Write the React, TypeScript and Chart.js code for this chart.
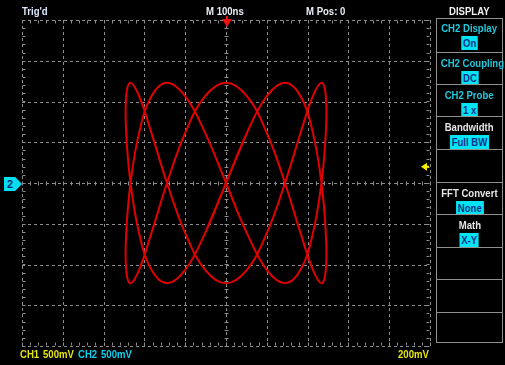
import React, { useEffect, useRef } from "react";
import { Chart, registerables } from "chart.js";

Chart.register(...registerables);

// X-Y mode: CH1 (x) vs CH2 (y), volts, 500 mV/div on both channels (2:5 Lissajous trace)
const xValues = [
  -0.256,
  0, 0.256, 0.5, 0.723, 0.914, 1.065, 1.17, 1.223, 1.223, 1.17, 1.065, 0.914, 0.723, 0.5, 0.256,
  0, -0.256, -0.5, -0.723, -0.914, -1.065, -1.17, -1.223, -1.223, -1.17, -1.065, -0.914, -0.723, -0.5, -0.256,
  0, 0.256, 0.5, 0.723, 0.914, 1.065, 1.17, 1.223, 1.223, 1.17, 1.065, 0.914, 0.723, 0.5, 0.256,
  0, -0.256, -0.5, -0.723, -0.914, -1.065, -1.17, -1.223, -1.223, -1.17, -1.065, -0.914, -0.723, -0.5, -0.256,
  0, 0.256,
];
const yValues = [
  -0.615,
  0, 0.615, 1.065, 1.23, 1.065, 0.615, 0, -0.615, -1.065, -1.23, -1.065, -0.615,
  0, 0.615, 1.065, 1.23, 1.065, 0.615, 0, -0.615, -1.065, -1.23, -1.065, -0.615,
  0, 0.615, 1.065, 1.23, 1.065, 0.615, 0, -0.615, -1.065, -1.23, -1.065, -0.615,
  0, 0.615, 1.065, 1.23, 1.065, 0.615, 0, -0.615, -1.065, -1.23, -1.065, -0.615,
  0, 0.615, 1.065, 1.23, 1.065, 0.615, 0, -0.615, -1.065, -1.23, -1.065, -0.615,
  0, 0.615,
];

const xDivTicks = [-2.5, -2, -1.5, -1, -0.5, 0, 0.5, 1, 1.5, 2, 2.5];
const yDivTicks = [-2, -1.5, -1, -0.5, 0, 0.5, 1, 1.5, 2];
const MINOR_STEP = 0.1;

const topLabels = [
  { text: "Trig'd", x: 22, color: "#dce8ff" },
  { text: "M 100ns", x: 206, color: "#e8eef8" },
  { text: "M Pos: 0", x: 306, color: "#e8eef8" },
];
const bottomLabels = [
  { text: "CH1", x: 20, color: "#e4e414" },
  { text: "500mV", x: 43, color: "#e4e414" },
  { text: "CH2", x: 78, color: "#10d0f0" },
  { text: "500mV", x: 101, color: "#10d0f0" },
  { text: "200mV", x: 398, color: "#e4e414" },
];

const menuTitle = "DISPLAY";
const menuLabels = ["CH2 Display", "CH2 Coupling", "CH2 Probe", "Bandwidth", "", "FFT Convert", "Math", "", "", ""];
const menuValues = ["On", "DC", "1 x", "Full BW", "", "None", "X-Y", "", "", ""];
const menuIsCh2 = [true, true, true, false, false, false, false, false, false, false];
const menuBounds = [18, 52, 84, 116, 149, 182, 214, 247, 279, 312, 343];

const GRID = "#8c8c8c";
const FONT = '"Liberation Sans Narrow", "Arial Narrow", "Liberation Sans", Arial, sans-serif';
const NARROW = "scaleX(0.87)";

const graticule = {
  id: "graticule",
  beforeDatasetsDraw(chart: any) {
    const { ctx, chartArea: a, scales } = chart;
    const xs = scales.x;
    const ys = scales.y;
    const line = (x1: number, y1: number, x2: number, y2: number) => {
      ctx.beginPath();
      ctx.moveTo(x1, y1);
      ctx.lineTo(x2, y2);
      ctx.stroke();
    };
    ctx.save();
    ctx.strokeStyle = GRID;
    ctx.lineWidth = 1;
    ctx.setLineDash([3, 3]);
    for (const v of xDivTicks) {
      const px = Math.round(xs.getPixelForValue(v)) + 0.5;
      line(px, a.top, px, a.bottom);
    }
    for (const v of yDivTicks) {
      const py = Math.round(ys.getPixelForValue(v)) + 0.5;
      line(a.left, py, a.right, py);
    }
    ctx.setLineDash([]);
    const xc = Math.round(xs.getPixelForValue(0)) + 0.5;
    const yc = Math.round(ys.getPixelForValue(0)) + 0.5;
    const x0 = xDivTicks[0], x1 = xDivTicks[xDivTicks.length - 1];
    const y0 = yDivTicks[0], y1 = yDivTicks[yDivTicks.length - 1];
    const top = Math.round(a.top) + 0.5, bot = Math.round(a.bottom) - 0.5;
    const lef = Math.round(a.left) + 0.5, rig = Math.round(a.right) - 0.5;
    for (let v = x0; v <= x1 + 1e-9; v += MINOR_STEP) {
      const px = Math.round(xs.getPixelForValue(v)) + 0.5;
      line(px, yc - 2, px, yc + 2);
      line(px, top, px, top + 3);
      line(px, bot, px, bot - 3);
    }
    for (let v = y0; v <= y1 + 1e-9; v += MINOR_STEP) {
      const py = Math.round(ys.getPixelForValue(v)) + 0.5;
      line(xc - 2, py, xc + 2, py);
      line(lef, py, lef + 3, py);
      line(rig, py, rig - 3, py);
    }
    ctx.restore();
  },
  afterDatasetsDraw(chart: any) {
    const { ctx, chartArea: a, scales } = chart;
    const xc = scales.x.getPixelForValue(0) + 1;
    ctx.save();
    // trigger position marker
    ctx.fillStyle = "#f01010";
    ctx.beginPath();
    ctx.moveTo(xc - 5, a.top - 1);
    ctx.lineTo(xc + 5, a.top - 1);
    ctx.lineTo(xc, a.top + 7);
    ctx.closePath();
    ctx.fill();
    ctx.fillRect(xc - 1, a.top - 4, 2, 4);
    // trigger level marker
    const ty = scales.y.getPixelForValue(0.2);
    ctx.fillStyle = "#f4f000";
    ctx.beginPath();
    ctx.moveTo(a.right - 9, ty);
    ctx.lineTo(a.right - 3, ty - 4);
    ctx.lineTo(a.right - 3, ty + 4);
    ctx.closePath();
    ctx.fill();
    ctx.fillRect(a.right - 4, ty - 1, 3, 2);
    ctx.restore();
  },
};

function Label({ text, x, y, color }: { text: string; x: number; y: number; color: string }) {
  return (
    <span
      style={{
        position: "absolute",
        left: x,
        top: y - 7,
        lineHeight: "14px",
        whiteSpace: "nowrap",
        color,
        transform: NARROW,
        transformOrigin: "left center",
      }}
    >
      {text}
    </span>
  );
}

export default function App() {
  const ref = useRef<HTMLCanvasElement>(null);

  useEffect(() => {
    document.body.style.margin = "0";
    document.body.style.background = "#000";
    const chart = new Chart(ref.current!, {
      type: "scatter",
      data: {
        datasets: [
          {
            data: xValues.map((v, i) => ({ x: v, y: yValues[i] })),
            showLine: true,
            borderColor: "#e00000",
            borderWidth: 2,
            pointRadius: 0,
            tension: 0.4,
            fill: false,
          },
        ],
      },
      options: {
        animation: false,
        responsive: false,
        devicePixelRatio: 1,
        events: [],
        layout: { padding: { left: 22, top: 20, right: 75, bottom: 19 } },
        scales: {
          x: { type: "linear", min: -2.5, max: 2.5, display: false },
          y: { type: "linear", min: -2, max: 2, display: false },
        },
        plugins: { legend: { display: false }, tooltip: { enabled: false } },
      },
      plugins: [graticule],
    } as any);
    return () => chart.destroy();
  }, []);

  return (
    <div
      style={{
        position: "relative",
        width: 505,
        height: 365,
        background: "#000",
        overflow: "hidden",
        fontFamily: FONT,
        fontSize: 11,
        fontWeight: "bold",
      }}
    >
      <canvas ref={ref} width={505} height={365} style={{ position: "absolute", left: 0, top: 0 }} />
      {topLabels.map((l, i) => (
        <Label key={"t" + i} text={l.text} x={l.x} y={11} color={l.color} />
      ))}
      {bottomLabels.map((l, i) => (
        <Label key={"b" + i} text={l.text} x={l.x} y={354} color={l.color} />
      ))}
      <div
        style={{
          position: "absolute",
          left: 436,
          width: 67,
          top: 4,
          lineHeight: "14px",
          textAlign: "center",
          color: "#f0f0f0",
        }}
      >
        <span style={{ display: "inline-block", transform: NARROW }}>{menuTitle}</span>
      </div>
      <div
        style={{
          position: "absolute",
          left: 4,
          top: 177,
          width: 18,
          height: 14,
          background: "#00e0f0",
          clipPath: "polygon(0 0, 62% 0, 100% 50%, 62% 100%, 0 100%)",
          color: "#0c2a70",
          lineHeight: "14px",
          paddingLeft: 3,
          boxSizing: "border-box",
        }}
      >
        2
      </div>
      <div
        style={{
          position: "absolute",
          left: 436,
          top: menuBounds[0],
          width: 67,
          height: menuBounds[menuBounds.length - 1] - menuBounds[0],
          border: "1px solid #909090",
          boxSizing: "border-box",
        }}
      />
      {menuLabels.map((lab, i) => {
        const top = menuBounds[i];
        const h = menuBounds[i + 1] - top;
        return (
          <div
            key={"m" + i}
            style={{
              position: "absolute",
              left: 436,
              top,
              width: 67,
              height: h,
              borderTop: i > 0 ? "1px solid #909090" : "none",
              boxSizing: "border-box",
            }}
          >
            {lab && (
              <div
                style={{
                  position: "absolute",
                  left: 0,
                  right: 0,
                  top: 4,
                  textAlign: "center",
                  lineHeight: "13px",
                  whiteSpace: "nowrap",
                }}
              >
                <span
                  style={{
                    display: "inline-block",
                    transform: NARROW,
                    color: menuIsCh2[i] ? "#20c8dc" : "#e6e6e6",
                  }}
                >
                  {lab}
                </span>
              </div>
            )}
            {menuValues[i] && (
              <div style={{ position: "absolute", left: 0, right: 0, top: 18, textAlign: "center" }}>
                <span
                  style={{
                    display: "inline-block",
                    background: "#00e4f4",
                    color: "#12308a",
                    padding: "0 2px",
                    height: 14,
                    lineHeight: "14px",
                    transform: NARROW,
                  }}
                >
                  {menuValues[i]}
                </span>
              </div>
            )}
          </div>
        );
      })}
    </div>
  );
}
